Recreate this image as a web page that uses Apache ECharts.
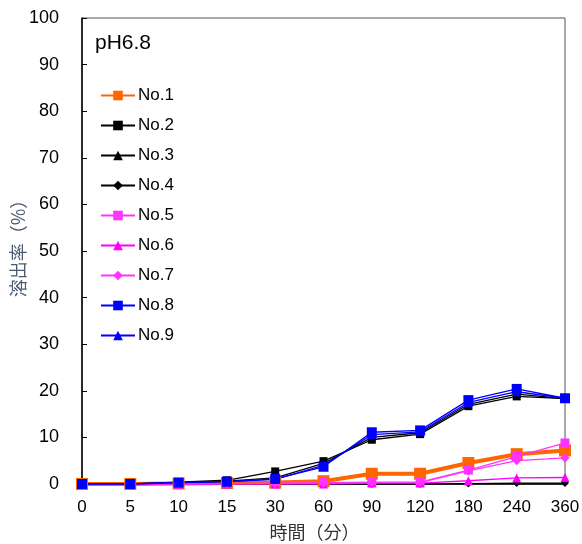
<!DOCTYPE html>
<html><head><meta charset="utf-8">
<script src="https://cdn.jsdelivr.net/npm/echarts@6/dist/echarts.min.js"></script>
<style>html,body{margin:0;padding:0;background:#fff}#c{width:582px;height:544px}</style>
</head><body><div id="c"></div>
<script>
const categories = ['0','5','10','15','30','60','90','120','180','240','360'];
const yTicks = [0,10,20,30,40,50,60,70,80,90,100];
const no1 = [0, 0, 0.1, 0.2, 0.3, 0.6, 2.2, 2.2, 4.5, 6.4, 7.2];
const no2 = [0, 0, 0.4, 0.8, 2.7, 4.9, 9.5, 10.7, 16.7, 18.8, 18.3];
const no3 = [0, 0, 0.3, 0.6, 1.3, 4.4, 10.0, 11.0, 17.1, 19.3, 18.3];
const no4 = [0, 0, 0, 0, 0, 0, 0, 0, 0.1, 0.2, 0.2];
const no5 = [0, 0, 0, 0.1, 0.2, 0.3, 0.4, 0.4, 3.0, 5.9, 8.8];
const no6 = [0, 0, 0, 0, 0, 0, 0.2, 0.2, 0.7, 1.3, 1.4];
const no7 = [0, 0, 0, 0, 0.1, 0.2, 0.3, 0.3, 2.8, 5.0, 5.6];
const no8 = [0, 0, 0.3, 0.5, 1.1, 3.7, 11.1, 11.5, 18.0, 20.4, 18.4];
const no9 = [0, 0, 0.3, 0.5, 1.0, 4.0, 10.6, 11.2, 17.5, 19.8, 18.4];

const seriesDefs = [
  {name:'No.1', data:no1, color:'#ff6600', symbol:'rect', size:12, width:4},
  {name:'No.2', data:no2, color:'#000000', symbol:'rect', size:8, width:1.3},
  {name:'No.3', data:no3, color:'#000000', symbol:'triangle', size:8, width:1.3},
  {name:'No.4', data:no4, color:'#000000', symbol:'diamond', size:8, width:1.3},
  {name:'No.5', data:no5, color:'#ff33ff', symbol:'rect', size:9, width:1.3},
  {name:'No.6', data:no6, color:'#ff00ff', symbol:'triangle', size:9, width:1.3},
  {name:'No.7', data:no7, color:'#ff33ff', symbol:'diamond', size:9, width:1.3},
  {name:'No.8', data:no8, color:'#0000ff', symbol:'rect', size:10, width:1.3},
  {name:'No.9', data:no9, color:'#0000ff', symbol:'triangle', size:9, width:1.3}
];

const font = "'Liberation Sans', Arial, sans-serif";
const cjk = "'Noto Sans CJK JP', 'Noto Sans CJK SC', sans-serif";
const chart = echarts.init(document.getElementById('c'), null, {renderer:'canvas'});
chart.setOption({
  animation:false,
  backgroundColor:'#fff',
  title:{text:'pH6.8', left:90, top:28, textStyle:{fontFamily:font, fontSize:21, fontWeight:'normal', color:'#000'}},
  legend:{
    orient:'vertical', left:95, top:82, itemWidth:34, itemHeight:12, itemGap:13,
    textStyle:{fontFamily:font, fontSize:17, lineHeight:17, color:'#000', padding:[0,0,0,-2]},
    data: seriesDefs.map(s=>s.name)
  },
  grid:{left:82, right:17, top:18, bottom:60, show:true, borderColor:'#555', borderWidth:1,
        backgroundColor:'transparent', containLabel:false, outerBoundsMode:'none'},
  xAxis:{
    type:'category', data:categories, boundaryGap:false,
    axisLine:{lineStyle:{color:'#000', width:1.5}},
    axisTick:{show:false},
    axisLabel:{fontFamily:font, fontSize:17, color:'#000', margin:15},
    name:'時間（分）', nameLocation:'middle', nameGap:39, nameMoveOverlap:false,
    nameTextStyle:{fontFamily:cjk, fontSize:18, color:'#333', padding:[0,18,0,0]}
  },
  yAxis:{
    type:'value', min:yTicks[0], max:yTicks[yTicks.length-1], interval:10,
    axisLine:{show:true, lineStyle:{color:'#000', width:1.5}},
    axisTick:{show:true, inside:true, length:5, lineStyle:{color:'#000'}},
    splitLine:{show:false},
    axisLabel:{fontFamily:font, fontSize:18, color:'#000', margin:23},
    name:'溶出率（%）', nameLocation:'middle', nameGap:55, nameMoveOverlap:false,
    nameTextStyle:{fontFamily:cjk, fontSize:18, color:'#4a5a70', padding:[0,0,0,14]}
  },
  series: seriesDefs.map(s=>({
    name:s.name, type:'line', data:s.data,
    symbol:s.symbol, symbolSize:s.size, showSymbol:true,
    itemStyle:{color:s.color},
    lineStyle:{color:s.color, width:s.width},
    emphasis:{disabled:true}
  }))
});
</script></body></html>
